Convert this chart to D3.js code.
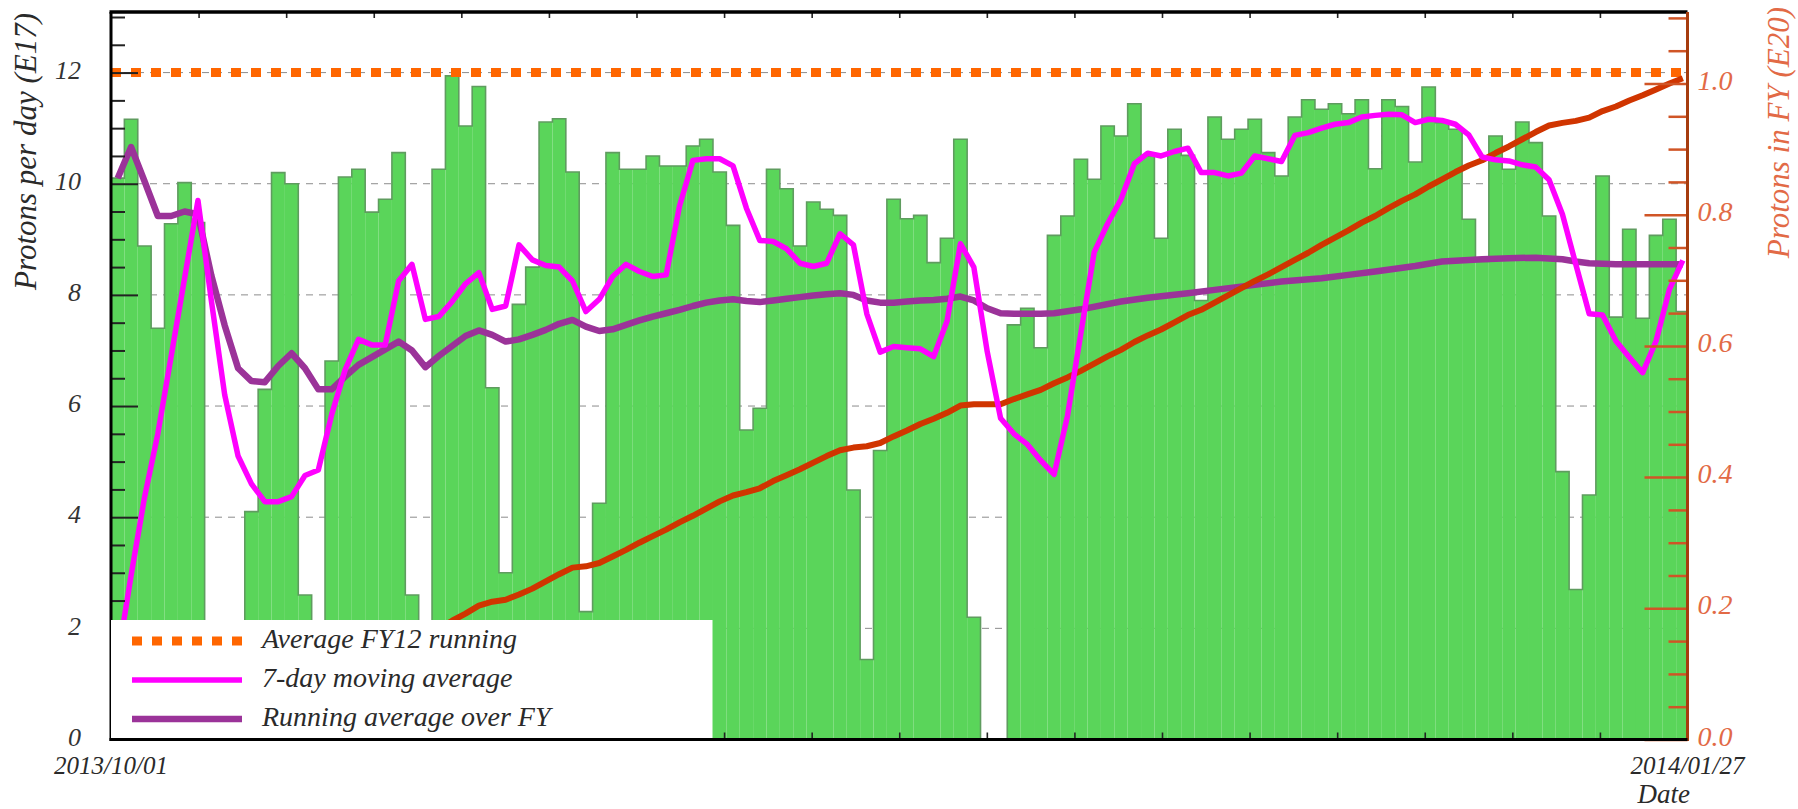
<!DOCTYPE html>
<html>
<head>
<meta charset="utf-8">
<script src="https://cdn.jsdelivr.net/npm/d3@7"></script>
<style>
  html, body { margin: 0; padding: 0; background: #ffffff; }
  svg { display: block; }
  text { font-family: "Liberation Serif", "Times New Roman", serif; font-style: italic; }
</style>
</head>
<body>
<svg id="chart" width="1798" height="809"></svg>
<script>
// ---- data -------------------------------------------------------------
// Protons delivered per day (E17), one value per day from 2013/10/01
const dailyProtons = [
  10.1, 11.16, 8.88, 7.40, 9.28, 10.02, 9.3, 0, 0, 0,
  4.1, 6.3, 10.2, 10.0, 2.6, 0, 6.81, 10.12, 10.26, 9.49,
  9.72, 10.56, 2.6, 0, 10.26, 11.94, 11.04, 11.75, 6.33, 3.0,
  7.83, 8.5, 11.11, 11.17, 10.21, 2.3, 4.25, 10.56, 10.26, 10.26,
  10.50, 10.32, 10.32, 10.68, 10.80, 10.21, 9.25, 5.57, 5.96, 10.26,
  9.91, 8.88, 9.67, 9.54, 9.43, 4.49, 1.44, 5.2, 9.72, 9.37,
  9.43, 8.58, 9.02, 10.80, 2.2, 0, 0, 7.46, 7.76, 7.05,
  9.07, 9.42, 10.44, 10.08, 11.04, 10.86, 11.44, 10.5, 9.02, 10.98,
  10.51, 7.9, 11.20, 10.80, 10.98, 11.16, 10.56, 10.14, 11.20, 11.51,
  11.34, 11.44, 11.26, 11.51, 10.27, 11.51, 11.39, 10.39, 11.74, 11.1,
  10.98, 9.36, 8.6, 10.86, 10.26, 11.11, 10.74, 9.42, 4.82, 2.7,
  4.4, 10.14, 7.6, 9.18, 7.58, 9.07, 9.36, 7.70
];

// 7-day moving average (E17/day), one value per day
const movingAvg7 = [
  1.45, 2.95, 4.35, 5.5, 6.9, 8.3, 9.7, 7.9, 6.2, 5.1,
  4.6, 4.28, 4.28, 4.37, 4.75, 4.85, 5.85, 6.65, 7.2, 7.1,
  7.1, 8.25, 8.55, 7.56, 7.61, 7.88, 8.2, 8.4, 7.74, 7.8,
  8.9, 8.63, 8.53, 8.5, 8.25, 7.7, 7.92, 8.33, 8.55, 8.42,
  8.33, 8.36, 9.6, 10.42, 10.45, 10.45, 10.32, 9.56, 8.98, 8.96,
  8.83, 8.57, 8.51, 8.57, 9.1, 8.9, 7.66, 6.97, 7.07, 7.05,
  7.03, 6.89, 7.53, 8.92, 8.5, 6.98, 5.78, 5.5, 5.31, 5.02,
  4.77, 5.82, 7.31, 8.77, 9.28, 9.72, 10.36, 10.55, 10.5, 10.58,
  10.64, 10.2, 10.2, 10.14, 10.19, 10.5, 10.45, 10.4, 10.87, 10.92,
  11.0, 11.07, 11.1, 11.2, 11.23, 11.25, 11.24, 11.1, 11.16, 11.14,
  11.07, 10.88, 10.48, 10.43, 10.41, 10.34, 10.3, 10.07, 9.45, 8.55,
  7.66, 7.64, 7.17, 6.88, 6.6, 7.17, 8.1, 8.62
];

// Running average over the fiscal year (E17/day): day index and value
const runningAvgDay = [
  0, 1, 2, 3, 4, 5, 6, 7, 8, 9, 10, 11, 12, 13, 14, 15, 16, 17, 18, 19,
  20, 21, 22, 23, 24, 25, 26, 27, 28, 29, 30, 31, 32, 33, 34, 35, 36, 37, 38, 39,
  40, 41, 42, 43, 44, 45, 46, 47, 48, 49, 50, 51, 52, 53, 54, 55, 56, 57, 58, 59,
  60, 61, 62, 63, 64, 65, 66, 67, 68, 69, 70,
  72, 75, 77, 80, 82, 85, 87, 90, 92, 94, 97, 99, 102, 104, 106, 108, 109, 110, 112, 117
];
const runningAvg = [
  10.1, 10.66, 10.05, 9.42, 9.42, 9.5, 9.45, 8.35, 7.45, 6.68,
  6.45, 6.43, 6.72, 6.95, 6.68, 6.3, 6.3, 6.53, 6.74, 6.88,
  7.02, 7.16, 7.0, 6.7, 6.9, 7.08, 7.26, 7.36, 7.28, 7.16,
  7.2, 7.28, 7.37, 7.48, 7.55, 7.43, 7.35, 7.38, 7.46, 7.54,
  7.61, 7.67, 7.73, 7.8, 7.86, 7.9, 7.92, 7.89, 7.87, 7.9,
  7.93, 7.96, 7.99, 8.01, 8.03, 8.0, 7.9, 7.86, 7.86, 7.88,
  7.9, 7.91, 7.93, 7.97, 7.9, 7.76, 7.67, 7.66, 7.66, 7.66,
  7.67,
  7.74, 7.88, 7.95, 8.03, 8.09, 8.18, 8.24, 8.3, 8.36, 8.42,
  8.52, 8.6, 8.64, 8.66, 8.67, 8.64, 8.6, 8.57, 8.55, 8.55
];

// Protons accumulated in the fiscal year (E20), one value per day
const cumulativeFY = [
  0.010, 0.021, 0.030, 0.038, 0.047, 0.057, 0.066, 0.066, 0.066, 0.066,
  0.070, 0.077, 0.087, 0.097, 0.099, 0.099, 0.106, 0.116, 0.127, 0.136,
  0.146, 0.156, 0.159, 0.159, 0.169, 0.181, 0.192, 0.204, 0.210, 0.213,
  0.221, 0.230, 0.241, 0.252, 0.262, 0.264, 0.269, 0.279, 0.289, 0.300,
  0.310, 0.320, 0.331, 0.341, 0.352, 0.363, 0.372, 0.377, 0.383, 0.394,
  0.403, 0.412, 0.422, 0.432, 0.441, 0.445, 0.447, 0.452, 0.462, 0.471,
  0.481, 0.489, 0.498, 0.509, 0.511, 0.511, 0.511, 0.519, 0.526, 0.533,
  0.543, 0.552, 0.562, 0.573, 0.584, 0.594, 0.606, 0.616, 0.625, 0.636,
  0.647, 0.655, 0.666, 0.677, 0.688, 0.699, 0.709, 0.720, 0.731, 0.742,
  0.754, 0.765, 0.776, 0.788, 0.798, 0.810, 0.821, 0.831, 0.843, 0.854,
  0.865, 0.875, 0.883, 0.894, 0.904, 0.915, 0.926, 0.936, 0.940, 0.943,
  0.948, 0.958, 0.965, 0.974, 0.982, 0.991, 1.000, 1.008
];

const fy12Average = 12;                       // E17 per day
const leftMajorTicks = [0, 2, 4, 6, 8, 10, 12];
const rightMajorTicks = [0, 0.2, 0.4, 0.6, 0.8, 1.0];
const dateLabels = ["2013/10/01", "2014/01/27"];
const legendLabels = ["Average FY12 running", "7-day moving average", "Running average over FY"];
const axisTitles = { left: "Protons per day (E17)", right: "Protons in FY (E20)", bottom: "Date" };

// ---- layout -----------------------------------------------------------
const frame = { left: 111, right: 1687.5, top: 12, bottom: 739.5 };
const daySpan = 117.85;     // axis length in days

const x = d3.scaleLinear().domain([0, daySpan]).range([frame.left, frame.right]);
const y = d3.scaleLinear().domain([0, 13.09]).range([frame.bottom, frame.top]);
const y2 = d3.scaleLinear().domain([0, 1.109]).range([frame.bottom, frame.top]);

const COLORS = {
  bar: "#5ad55a", barEdge: "#5f9c5f", grid: "#8c8c8c",
  fy12: "#ff6600", ma7: "#ff00ff", running: "#9b3399", cumul: "#d03500",
  rightAxis: "#a63c0e", rightTick: "#d05526", rightText: "#e26a46", text: "#2a2a2a"
};

const svg = d3.select("#chart");
svg.append("rect").attr("width", 1798).attr("height", 809).attr("fill", "#fff");

svg.append("defs").append("clipPath").attr("id", "plotClip")
  .append("rect")
  .attr("x", frame.left).attr("y", frame.top)
  .attr("width", frame.right - frame.left).attr("height", frame.bottom - frame.top);

const plot = svg.append("g").attr("clip-path", "url(#plotClip)");

// horizontal dashed grid at the major left ticks
plot.selectAll("line.grid")
  .data(leftMajorTicks.filter(v => v > 0))
  .join("line")
  .attr("class", "grid")
  .attr("x1", frame.left).attr("x2", frame.right)
  .attr("y1", d => y(d)).attr("y2", d => y(d))
  .attr("stroke", COLORS.grid).attr("stroke-width", 1)
  .attr("stroke-dasharray", "7 6");

// daily bars
plot.selectAll("rect.bar")
  .data(dailyProtons)
  .join("rect")
  .attr("class", "bar")
  .attr("x", (d, i) => x(i))
  .attr("width", (d, i) => x(i + 1) - x(i))
  .attr("y", d => y(d))
  .attr("height", d => y(0) - y(d))
  .attr("fill", COLORS.bar);

// histogram step outline
const outline = d3.path();
outline.moveTo(x(0), y(0));
dailyProtons.forEach((v, i) => { outline.lineTo(x(i), y(v)); outline.lineTo(x(i + 1), y(v)); });
outline.lineTo(x(dailyProtons.length), y(0));
plot.append("path")
  .attr("d", outline.toString())
  .attr("fill", "none")
  .attr("stroke", COLORS.barEdge)
  .attr("stroke-width", 1.6);

// FY12 reference level
plot.append("line")
  .attr("x1", frame.left).attr("x2", frame.right)
  .attr("y1", y(fy12Average)).attr("y2", y(fy12Average))
  .attr("stroke", COLORS.fy12).attr("stroke-width", 9)
  .attr("stroke-dasharray", "10 10");

// running average, cumulative total and moving average
const lineLeft = d3.line().x(d => x(d[0] + 0.5)).y(d => y(d[1]));
const lineRight = d3.line().x(d => x(d[0] + 0.5)).y(d => y2(d[1]));

plot.append("path")
  .attr("d", lineLeft(runningAvgDay.map((d, i) => [d, runningAvg[i]])))
  .attr("fill", "none").attr("stroke", COLORS.running)
  .attr("stroke-width", 6.5).attr("stroke-linejoin", "round");

plot.append("path")
  .attr("d", lineRight(cumulativeFY.map((v, i) => [i, v])))
  .attr("fill", "none").attr("stroke", COLORS.cumul)
  .attr("stroke-width", 6).attr("stroke-linejoin", "round");

plot.append("path")
  .attr("d", lineLeft(movingAvg7.map((v, i) => [i, v])))
  .attr("fill", "none").attr("stroke", COLORS.ma7)
  .attr("stroke-width", 5.5).attr("stroke-linejoin", "round");

// ---- axes -------------------------------------------------------------
function styleAxis(g, color, width, fontSize, fill) {
  g.attr("font-family", null).attr("font-size", null);
  g.select(".domain").remove();
  g.selectAll(".tick line").attr("stroke", color).attr("stroke-width", width);
  g.selectAll(".tick text")
    .attr("font-size", fontSize)
    .attr("fill", fill)
    .style("font-family", "'Liberation Serif','Times New Roman',serif")
    .style("font-style", "italic");
}

// left axis: major ticks with labels, minor every 0.5
const leftMinor = d3.range(0.5, 13.05, 0.5).filter(v => Math.abs(v % 2) > 1e-6);
svg.append("g")
  .attr("transform", `translate(${frame.left},0)`)
  .call(d3.axisLeft(y).tickValues(leftMinor).tickSize(-14).tickSizeOuter(0).tickFormat(""))
  .call(g => styleAxis(g, "#222", 2, 0, "none"));
svg.append("g")
  .attr("transform", `translate(${frame.left},0)`)
  .call(d3.axisLeft(y).tickValues(leftMajorTicks).tickSize(-27).tickSizeOuter(0)
          .tickPadding(30).tickFormat(d3.format("d")))
  .call(g => styleAxis(g, "#222", 2, 26, "#333"))
  .call(g => g.selectAll(".tick text").attr("dy", "0.22em"));

// top and bottom time-axis divisions
const divisions = d3.range(1, 18).map(i => i * daySpan / 18);
svg.append("g")
  .attr("transform", `translate(0,${frame.top})`)
  .call(d3.axisBottom(x).tickValues(divisions).tickSize(6).tickSizeOuter(0).tickFormat(""))
  .call(g => styleAxis(g, "#222", 1.6, 0, "none"));
svg.append("g")
  .attr("transform", `translate(0,${frame.bottom})`)
  .call(d3.axisTop(x).tickValues(divisions).tickSize(7).tickSizeOuter(0).tickFormat(""))
  .call(g => styleAxis(g, "#222", 1.6, 0, "none"));

// right axis (accumulated protons)
const rightMinor = d3.range(0.05, 1.11, 0.05).filter(v => Math.abs((v * 5) - Math.round(v * 5)) > 1e-6);
svg.append("g")
  .attr("transform", `translate(${frame.right},0)`)
  .call(d3.axisRight(y2).tickValues(rightMinor).tickSize(-19).tickSizeOuter(0).tickFormat(""))
  .call(g => styleAxis(g, COLORS.rightTick, 2.5, 0, "none"));
svg.append("g")
  .attr("transform", `translate(${frame.right},0)`)
  .call(d3.axisRight(y2).tickValues(rightMajorTicks).tickSize(-43).tickSizeOuter(0)
          .tickPadding(10).tickFormat(d3.format(".1f")))
  .call(g => styleAxis(g, COLORS.rightTick, 2.5, 28, COLORS.rightText))
  .call(g => g.selectAll(".tick text").attr("dy", "0.2em"));

// frame lines
svg.append("line").attr("x1", frame.left - 1.5).attr("x2", frame.right)
  .attr("y1", frame.top).attr("y2", frame.top).attr("stroke", "#000").attr("stroke-width", 3.5);
svg.append("line").attr("x1", frame.left).attr("x2", frame.left)
  .attr("y1", frame.top).attr("y2", frame.bottom + 1.5).attr("stroke", "#000").attr("stroke-width", 3);
svg.append("line").attr("x1", frame.right).attr("x2", frame.right)
  .attr("y1", frame.top).attr("y2", frame.bottom + 1.5).attr("stroke", COLORS.rightAxis).attr("stroke-width", 3);

// ---- legend -----------------------------------------------------------
const legend = svg.append("g");
legend.append("rect")
  .attr("x", frame.left).attr("y", 620)
  .attr("width", 601.5).attr("height", frame.bottom - 620 - 1.5)
  .attr("fill", "#fff");

const legendRows = [
  { label: legendLabels[0], color: COLORS.fy12, width: 9, dash: "10 10", y: 641 },
  { label: legendLabels[1], color: COLORS.ma7, width: 5.5, dash: null, y: 680 },
  { label: legendLabels[2], color: COLORS.running, width: 6.5, dash: null, y: 719 }
];
legendRows.forEach(r => {
  legend.append("line")
    .attr("x1", 132).attr("x2", 242).attr("y1", r.y).attr("y2", r.y)
    .attr("stroke", r.color).attr("stroke-width", r.width)
    .attr("stroke-dasharray", r.dash);
  legend.append("text")
    .attr("x", 262).attr("y", r.y + 7)
    .attr("font-size", 28).attr("fill", COLORS.text)
    .text(r.label);
});

// bottom axis line drawn over the legend edge
svg.append("line").attr("x1", frame.left - 1.5).attr("x2", frame.right)
  .attr("y1", frame.bottom).attr("y2", frame.bottom).attr("stroke", "#000").attr("stroke-width", 3);

// ---- labels -----------------------------------------------------------
svg.selectAll("text.date")
  .data([0, daySpan])
  .join("text")
  .attr("class", "date")
  .attr("x", d => x(d)).attr("y", 773.5)
  .attr("text-anchor", "middle")
  .attr("font-size", 25).attr("fill", COLORS.text)
  .text((d, i) => dateLabels[i]);

svg.append("text")
  .attr("x", 1690).attr("y", 803)
  .attr("text-anchor", "end")
  .attr("font-size", 27).attr("fill", COLORS.text)
  .text(axisTitles.bottom);

svg.append("text")
  .attr("transform", "translate(36,13) rotate(-90)")
  .attr("text-anchor", "end")
  .attr("font-size", 31).attr("fill", COLORS.text)
  .text(axisTitles.left);

svg.append("text")
  .attr("transform", "translate(1789,7) rotate(-90)")
  .attr("text-anchor", "end")
  .attr("font-size", 31).attr("fill", COLORS.rightText)
  .text(axisTitles.right);
</script>
</body>
</html>
